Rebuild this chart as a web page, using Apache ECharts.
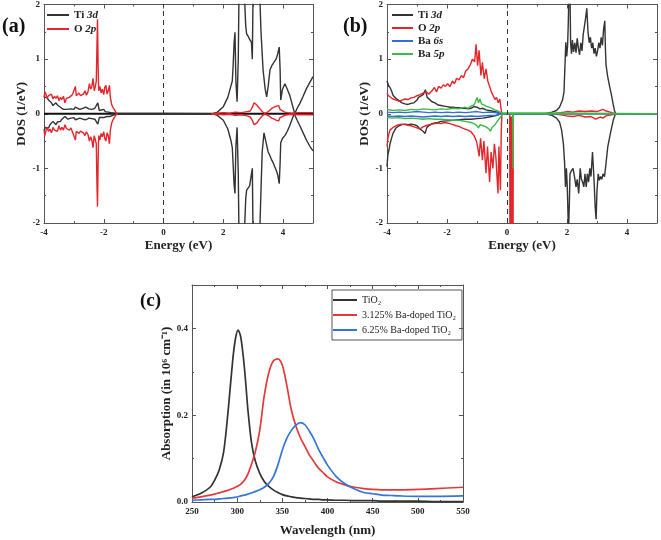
<!DOCTYPE html>
<html>
<head>
<meta charset="utf-8">
<script src="https://cdn.jsdelivr.net/npm/echarts@6/dist/echarts.min.js"></script>
<style>html,body{margin:0;padding:0;background:#fff}#c{width:661px;height:540px}</style>
</head>
<body>
<div id="c"></div>
<script>
// ---------- Panel (a): pristine TiO2 PDOS ----------
const aTiUp = [[-4.0,0.30],[-3.95,0.28],[-3.9,0.30],[-3.85,0.25],[-3.8,0.22],[-3.75,0.2],[-3.7,0.15],[-3.65,0.18],[-3.6,0.2],[-3.55,0.16],[-3.5,0.14],[-3.45,0.12],[-3.4,0.15],[-3.35,0.08],[-3.3,0.05],[-3.25,0.08],[-3.2,0.1],[-3.1,0.09],[-3.0,0.08],[-2.95,0.12],[-2.9,0.1],[-2.8,0.08],[-2.7,0.1],[-2.6,0.12],[-2.5,0.09],[-2.4,0.08],[-2.3,0.1],[-2.25,0.12],[-2.2,0.2],[-2.15,0.06],[-2.1,0.05],[-2.0,0.08],[-1.95,0.04],[-1.9,0.05],[-1.85,0.03],[-1.8,0.06],[-1.75,0.02],[-1.7,0.03],[-1.6,0.01],[-1.55,0],[1.66,0],[1.8,0.03],[2.0,0.13],[2.15,0.3],[2.25,0.5],[2.3,0.6],[2.33,0.9],[2.36,1.3],[2.39,1.49],[2.42,0.6],[2.46,0.22],[2.5,1.0],[2.53,2.5],[2.6,2.5],[2.68,2.5],[2.75,1.6],[2.78,1.46],[2.83,1.42],[2.88,1.36],[2.94,1.31],[2.97,1.0],[3.0,2.5],[3.1,2.5],[3.2,2.5],[3.26,1.5],[3.33,0.8],[3.4,0.45],[3.45,0.31],[3.5,0.5],[3.56,0.8],[3.62,0.88],[3.67,0.92],[3.72,0.95],[3.78,1.02],[3.82,1.1],[3.87,1.22],[3.9,0.8],[3.92,0.25],[3.98,0.45],[4.06,0.55],[4.14,0.45],[4.22,0.34],[4.3,0.18],[4.39,0.0],[4.47,0.1],[4.56,0.19],[4.67,0.32],[4.78,0.46],[4.9,0.58],[5.0,0.68]];
const aTiDn = [[-4.0,-0.3],[-3.95,-0.25],[-3.9,-0.22],[-3.85,-0.26],[-3.8,-0.2],[-3.75,-0.18],[-3.7,-0.14],[-3.65,-0.17],[-3.6,-0.2],[-3.55,-0.15],[-3.5,-0.12],[-3.45,-0.14],[-3.4,-0.1],[-3.35,-0.08],[-3.3,-0.05],[-3.25,-0.07],[-3.2,-0.1],[-3.1,-0.08],[-3.0,-0.07],[-2.95,-0.11],[-2.9,-0.09],[-2.8,-0.08],[-2.7,-0.1],[-2.6,-0.11],[-2.5,-0.08],[-2.4,-0.09],[-2.3,-0.1],[-2.25,-0.13],[-2.2,-0.19],[-2.15,-0.07],[-2.1,-0.05],[-2.0,-0.07],[-1.95,-0.04],[-1.9,-0.05],[-1.85,-0.03],[-1.8,-0.05],[-1.75,-0.02],[-1.7,-0.03],[-1.6,-0.01],[-1.55,0],[1.66,0],[1.8,-0.03],[2.0,-0.12],[2.15,-0.28],[2.25,-0.48],[2.3,-0.62],[2.33,-0.95],[2.36,-1.3],[2.39,-1.46],[2.42,-0.6],[2.46,-0.25],[2.5,-1.1],[2.53,-2.5],[2.6,-2.5],[2.68,-2.5],[2.75,-1.55],[2.78,-1.4],[2.83,-1.38],[2.88,-1.32],[2.94,-1.3],[2.97,-1.0],[3.0,-2.5],[3.1,-2.5],[3.2,-2.5],[3.26,-1.4],[3.3,-0.7],[3.36,-0.35],[3.42,-0.5],[3.5,-0.7],[3.56,-0.77],[3.62,-0.85],[3.67,-0.9],[3.72,-0.97],[3.78,-1.05],[3.82,-1.12],[3.87,-1.28],[3.9,-0.9],[3.92,-0.53],[3.98,-0.45],[4.06,-0.4],[4.14,-0.32],[4.22,-0.22],[4.3,-0.1],[4.37,0.0],[4.47,-0.12],[4.56,-0.22],[4.67,-0.35],[4.78,-0.48],[4.9,-0.6],[5.0,-0.68]];
const aOUp = [[-4.0,0.3],[-3.97,0.4],[-3.93,0.35],[-3.9,0.28],[-3.85,0.33],[-3.8,0.3],[-3.75,0.36],[-3.7,0.27],[-3.65,0.32],[-3.6,0.28],[-3.55,0.33],[-3.5,0.24],[-3.45,0.3],[-3.4,0.26],[-3.35,0.32],[-3.3,0.2],[-3.25,0.28],[-3.2,0.25],[-3.15,0.3],[-3.1,0.27],[-3.05,0.35],[-3.0,0.32],[-2.95,0.5],[-2.92,0.33],[-2.88,0.3],[-2.83,0.38],[-2.78,0.33],[-2.73,0.3],[-2.68,0.36],[-2.63,0.42],[-2.58,0.34],[-2.53,0.4],[-2.48,0.55],[-2.44,0.45],[-2.4,0.5],[-2.36,0.65],[-2.32,0.42],[-2.28,0.5],[-2.25,0.6],[-2.23,1.2],[-2.21,1.73],[-2.19,0.9],[-2.17,0.42],[-2.13,0.5],[-2.09,0.38],[-2.05,0.45],[-2.0,0.35],[-1.97,0.48],[-1.93,0.52],[-1.89,0.36],[-1.85,0.42],[-1.81,0.52],[-1.78,0.3],[-1.74,0.18],[-1.7,0.12],[-1.65,0.08],[-1.6,0.03],[-1.55,0],[0,'-'],[1.6,0],[1.8,0.01],[2.0,0.02],[2.2,0.01],[2.4,0.03],[2.6,0.02],[2.8,0.04],[2.9,0.05],[2.97,0.12],[3.03,0.2],[3.07,0.22],[3.12,0.16],[3.18,0.12],[3.24,0.08],[3.3,0.04],[3.38,0.01],[3.45,0.02],[3.55,0.06],[3.62,0.1],[3.7,0.12],[3.78,0.14],[3.85,0.15],[3.9,0.08],[3.96,0.05],[4.05,0.03],[4.15,0.02],[4.3,0.01],[4.5,0.02],[4.7,0.02],[5.0,0.02]];
const aODn = [[-4.0,-0.3],[-3.97,-0.4],[-3.93,-0.3],[-3.9,-0.25],[-3.85,-0.32],[-3.8,-0.28],[-3.75,-0.35],[-3.7,-0.25],[-3.65,-0.3],[-3.6,-0.27],[-3.55,-0.32],[-3.5,-0.22],[-3.45,-0.3],[-3.4,-0.25],[-3.35,-0.3],[-3.3,-0.2],[-3.25,-0.27],[-3.2,-0.24],[-3.15,-0.3],[-3.1,-0.26],[-3.05,-0.33],[-3.0,-0.3],[-2.95,-0.48],[-2.92,-0.32],[-2.88,-0.3],[-2.83,-0.36],[-2.78,-0.32],[-2.73,-0.3],[-2.68,-0.35],[-2.63,-0.4],[-2.58,-0.33],[-2.53,-0.38],[-2.48,-0.5],[-2.44,-0.42],[-2.4,-0.48],[-2.36,-0.62],[-2.32,-0.4],[-2.28,-0.48],[-2.25,-0.55],[-2.23,-1.25],[-2.21,-1.7],[-2.19,-0.9],[-2.17,-0.4],[-2.13,-0.48],[-2.09,-0.36],[-2.05,-0.42],[-2.0,-0.33],[-1.97,-0.45],[-1.93,-0.5],[-1.89,-0.35],[-1.85,-0.4],[-1.81,-0.55],[-1.78,-0.3],[-1.74,-0.18],[-1.7,-0.12],[-1.65,-0.07],[-1.6,-0.03],[-1.55,0],[0,'-'],[1.6,0],[1.8,-0.01],[2.0,-0.02],[2.2,-0.01],[2.4,-0.03],[2.6,-0.02],[2.8,-0.04],[2.9,-0.06],[2.97,-0.12],[3.03,-0.2],[3.07,-0.23],[3.12,-0.17],[3.18,-0.12],[3.24,-0.08],[3.3,-0.04],[3.38,-0.01],[3.45,-0.02],[3.55,-0.05],[3.62,-0.08],[3.7,-0.1],[3.78,-0.12],[3.85,-0.13],[3.9,-0.07],[3.96,-0.05],[4.05,-0.03],[4.15,-0.02],[4.3,-0.01],[4.5,-0.02],[4.7,-0.02],[5.0,-0.02]];
const aZero = [[-4,0],[5,0]];

// ---------- Panel (b): Ba-doped TiO2 PDOS ----------
const bTiUp = [[-4.0,0.6],[-3.95,0.52],[-3.9,0.48],[-3.85,0.42],[-3.8,0.34],[-3.7,0.28],[-3.6,0.24],[-3.5,0.2],[-3.4,0.18],[-3.3,0.17],[-3.2,0.19],[-3.1,0.2],[-3.0,0.25],[-2.95,0.3],[-2.85,0.33],[-2.78,0.36],[-2.72,0.44],[-2.66,0.3],[-2.6,0.27],[-2.5,0.22],[-2.4,0.2],[-2.3,0.16],[-2.2,0.15],[-2.1,0.14],[-2.0,0.13],[-1.9,0.12],[-1.8,0.12],[-1.7,0.11],[-1.6,0.11],[-1.5,0.1],[-1.4,0.1],[-1.3,0.09],[-1.2,0.1],[-1.1,0.13],[-1.0,0.12],[-0.9,0.09],[-0.8,0.1],[-0.7,0.07],[-0.6,0.06],[-0.5,0.05],[-0.4,0.04],[-0.3,0.03],[-0.2,0.0],[1.27,0],[1.5,0.03],[1.65,0.06],[1.75,0.12],[1.85,0.25],[1.9,0.4],[1.93,0.85],[1.96,1.31],[1.99,1.05],[2.02,1.25],[2.04,1.6],[2.06,2.1],[2.1,2.2],[2.12,1.3],[2.15,1.1],[2.18,1.35],[2.22,1.13],[2.26,1.3],[2.3,1.12],[2.34,1.38],[2.38,1.2],[2.42,1.08],[2.46,1.3],[2.5,1.15],[2.54,1.45],[2.58,1.6],[2.62,1.75],[2.66,1.93],[2.7,1.5],[2.74,1.3],[2.78,1.4],[2.82,1.2],[2.86,1.3],[2.9,1.1],[2.94,1.2],[2.98,1.05],[3.02,1.15],[3.06,1.3],[3.1,1.2],[3.14,1.4],[3.18,1.25],[3.22,1.55],[3.26,1.7],[3.28,1.2],[3.3,0.9],[3.35,0.7],[3.42,0.5],[3.48,0.35],[3.53,0.2],[3.58,0.06],[3.63,0],[5.0,0]];
const bTiDn = [[-4.0,-0.97],[-3.97,-0.75],[-3.93,-0.65],[-3.9,-0.55],[-3.85,-0.45],[-3.8,-0.36],[-3.7,-0.26],[-3.6,-0.22],[-3.5,-0.2],[-3.4,-0.19],[-3.3,-0.2],[-3.2,-0.19],[-3.1,-0.2],[-3.0,-0.22],[-2.9,-0.28],[-2.8,-0.32],[-2.73,-0.36],[-2.67,-0.25],[-2.6,-0.22],[-2.5,-0.18],[-2.4,-0.17],[-2.3,-0.16],[-2.2,-0.14],[-2.0,-0.13],[-1.8,-0.12],[-1.6,-0.11],[-1.4,-0.1],[-1.2,-0.1],[-1.0,-0.09],[-0.8,-0.08],[-0.6,-0.06],[-0.4,-0.04],[-0.2,0],[1.27,0],[1.5,-0.03],[1.65,-0.08],[1.75,-0.15],[1.82,-0.3],[1.88,-0.55],[1.92,-0.9],[1.95,-1.34],[1.98,-1.0],[2.01,-1.34],[2.05,-2.2],[2.08,-1.6],[2.1,-1.1],[2.14,-1.05],[2.2,-1.0],[2.25,-1.15],[2.3,-1.34],[2.34,-1.2],[2.39,-1.46],[2.44,-1.0],[2.48,-1.2],[2.52,-1.25],[2.56,-1.34],[2.6,-1.1],[2.64,-1.34],[2.68,-1.1],[2.72,-1.25],[2.76,-1.0],[2.8,-1.15],[2.85,-0.7],[2.9,-1.2],[2.94,-1.71],[2.97,-1.93],[3.0,-1.4],[3.04,-1.1],[3.08,-1.22],[3.12,-1.15],[3.16,-1.2],[3.2,-1.1],[3.25,-1.15],[3.3,-0.91],[3.36,-0.6],[3.45,-0.35],[3.55,-0.1],[3.62,0],[5.0,0]];
const bOUp = [[-4.0,0.38],[-3.95,0.33],[-3.9,0.3],[-3.8,0.27],[-3.7,0.25],[-3.6,0.23],[-3.5,0.25],[-3.4,0.27],[-3.3,0.26],[-3.2,0.29],[-3.1,0.3],[-3.0,0.33],[-2.9,0.35],[-2.8,0.38],[-2.7,0.4],[-2.6,0.36],[-2.5,0.42],[-2.42,0.48],[-2.35,0.4],[-2.28,0.5],[-2.2,0.47],[-2.12,0.53],[-2.05,0.5],[-1.98,0.55],[-1.9,0.5],[-1.82,0.6],[-1.75,0.55],[-1.68,0.65],[-1.6,0.62],[-1.52,0.7],[-1.45,0.66],[-1.38,0.78],[-1.3,0.82],[-1.22,0.9],[-1.15,1.0],[-1.08,0.95],[-1.03,1.27],[-0.98,0.88],[-0.93,1.16],[-0.87,0.7],[-0.82,0.94],[-0.76,0.64],[-0.7,0.82],[-0.64,0.6],[-0.58,0.57],[-0.52,0.4],[-0.46,0.33],[-0.4,0.26],[-0.35,0.3],[-0.29,0.2],[-0.24,0.27],[-0.2,0.1],[-0.17,0],[1.5,0],[1.8,0.02],[2.0,0.04],[2.2,0.03],[2.4,0.05],[2.6,0.04],[2.8,0.05],[3.0,0.04],[3.2,0.08],[3.3,0.05],[3.5,0.02],[3.6,0],[5.0,0]];
const bODn = [[-4.0,-0.6],[-3.97,-0.45],[-3.93,-0.35],[-3.9,-0.3],[-3.8,-0.25],[-3.7,-0.22],[-3.6,-0.2],[-3.5,-0.19],[-3.4,-0.2],[-3.3,-0.21],[-3.2,-0.22],[-3.1,-0.24],[-3.0,-0.26],[-2.9,-0.28],[-2.8,-0.24],[-2.7,-0.22],[-2.6,-0.2],[-2.5,-0.19],[-2.4,-0.18],[-2.3,-0.17],[-2.2,-0.18],[-2.1,-0.16],[-2.0,-0.17],[-1.9,-0.18],[-1.8,-0.2],[-1.7,-0.22],[-1.6,-0.23],[-1.5,-0.26],[-1.4,-0.28],[-1.3,-0.3],[-1.2,-0.33],[-1.1,-0.4],[-1.02,-0.5],[-0.98,-0.6],[-0.93,-0.78],[-0.88,-0.45],[-0.82,-0.85],[-0.77,-0.5],[-0.7,-1.09],[-0.65,-0.6],[-0.58,-1.25],[-0.53,-0.7],[-0.47,-1.0],[-0.42,-0.55],[-0.37,-0.8],[-0.3,-1.46],[-0.27,-0.6],[-0.22,-1.4],[-0.19,-0.3],[-0.17,0],[0.09,0],[0.1,-3],[0.11,-0.05],[0.12,-3],[0.13,-0.05],[0.14,-3],[0.15,-0.05],[0.16,-3],[0.17,-0.05],[0.18,-3],[0.19,-0.05],[0.2,-3],[0.21,0],[1.5,0],[1.8,-0.02],[2.0,-0.04],[2.2,-0.05],[2.4,-0.03],[2.6,-0.06],[2.8,-0.05],[2.95,-0.1],[3.1,-0.06],[3.2,-0.08],[3.3,-0.04],[3.5,-0.02],[3.6,0],[5.0,0]];
const bBa6sUp = [[-4.0,0.03],[-3.8,0.02],[-3.6,0.03],[-3.4,0.02],[-3.2,0.03],[-3.0,0.04],[-2.8,0.03],[-2.6,0.02],[-2.4,0.03],[-2.2,0.02],[-2.0,0.03],[-1.8,0.02],[-1.6,0.03],[-1.4,0.02],[-1.2,0.03],[-1.0,0.04],[-0.8,0.02],[-0.6,0.03],[-0.4,0.02],[-0.3,0.01],[-0.2,0],[5.0,0]];
const bBa6sDn = [[-4.0,-0.04],[-3.8,-0.05],[-3.6,-0.04],[-3.4,-0.05],[-3.2,-0.04],[-3.0,-0.05],[-2.8,-0.06],[-2.6,-0.05],[-2.4,-0.04],[-2.2,-0.05],[-2.0,-0.04],[-1.8,-0.05],[-1.6,-0.04],[-1.4,-0.05],[-1.2,-0.04],[-1.0,-0.05],[-0.8,-0.04],[-0.6,-0.03],[-0.4,-0.03],[-0.3,-0.02],[-0.2,0],[5.0,0]];
const bBa5pUp = [[-4.0,0.08],[-3.8,0.06],[-3.6,0.07],[-3.4,0.06],[-3.2,0.08],[-3.0,0.07],[-2.8,0.09],[-2.6,0.08],[-2.4,0.07],[-2.2,0.09],[-2.0,0.08],[-1.8,0.1],[-1.6,0.09],[-1.4,0.12],[-1.3,0.1],[-1.2,0.14],[-1.1,0.16],[-1.05,0.22],[-1.0,0.3],[-0.95,0.2],[-0.9,0.27],[-0.85,0.18],[-0.8,0.2],[-0.7,0.14],[-0.6,0.12],[-0.5,0.1],[-0.4,0.07],[-0.3,0.05],[-0.2,0.02],[-0.15,0],[5.0,0]];
const bBa5pDn = [[-4.0,-0.07],[-3.8,-0.08],[-3.6,-0.07],[-3.4,-0.09],[-3.2,-0.08],[-3.0,-0.09],[-2.8,-0.1],[-2.6,-0.09],[-2.4,-0.1],[-2.2,-0.1],[-2.0,-0.11],[-1.8,-0.12],[-1.6,-0.12],[-1.4,-0.14],[-1.2,-0.16],[-1.1,-0.18],[-1.0,-0.22],[-0.95,-0.26],[-0.9,-0.2],[-0.8,-0.22],[-0.7,-0.24],[-0.6,-0.28],[-0.55,-0.32],[-0.5,-0.25],[-0.4,-0.2],[-0.3,-0.12],[-0.2,-0.05],[-0.15,0],[0.19,0],[0.2,-1.0],[0.21,0],[5.0,0]];

// ---------- Panel (c): absorption spectra ----------
const wavelength = [250,260,270,275,280,285,290,295,298,301,304,308,312,316,320,325,330,335,340,345,350,355,360,365,370,375,380,385,390,395,400,410,420,430,440,450,460,470,480,500,520,550];
const absTiO2   = [0.012,0.02,0.034,0.05,0.073,0.115,0.21,0.325,0.375,0.396,0.38,0.31,0.21,0.135,0.095,0.066,0.047,0.036,0.028,0.022,0.017,0.014,0.012,0.01,0.009,0.008,0.007,0.006,0.006,0.005,0.005,0.004,0.004,0.003,0.003,0.003,0.002,0.002,0.002,0.002,0.001,0.001];
const absBa3125 = [0.009,0.012,0.016,0.018,0.021,0.024,0.027,0.031,0.034,0.037,0.041,0.05,0.065,0.088,0.115,0.165,0.245,0.298,0.325,0.33,0.315,0.268,0.212,0.175,0.148,0.128,0.108,0.093,0.078,0.068,0.058,0.046,0.039,0.034,0.031,0.029,0.028,0.028,0.028,0.029,0.031,0.034];
const absBa625  = [0.004,0.005,0.006,0.006,0.007,0.008,0.009,0.01,0.011,0.012,0.014,0.016,0.018,0.021,0.024,0.028,0.034,0.043,0.058,0.085,0.12,0.147,0.165,0.177,0.183,0.178,0.163,0.145,0.122,0.103,0.085,0.058,0.041,0.03,0.022,0.019,0.016,0.015,0.014,0.013,0.013,0.014];

// tick settings
const dosXTicks = {min:-4, max:5, interval:2};
const dosYTicks = {min:-2, max:2, interval:1};
const absXTicks = {min:250, max:550, interval:50};
const absYTicks = {min:0, max:0.5, interval:0.2};

const SERIF = 'Liberation Serif';
const C_BLACK = '#333333', C_RED = '#e3262b', C_BLUE = '#2f6fd6', C_GREEN = '#3db84b';
const W_DOS = 1.4, W_ABS = 1.7;

function axes(gi, xt, yt, xName, yName, xGap, yGap, yFmt){
  const common = {
    axisLine:{show:true, onZero:false, lineStyle:{color:'#555', width:1}},
    axisTick:{show:true, inside:true, length:4, lineStyle:{color:'#555'}},
    minorTick:{show:true, splitNumber:2, length:2, lineStyle:{color:'#555'}},
    splitLine:{show:false},
  };
  const lbl = {fontFamily:SERIF, fontWeight:'bold', fontSize:9, color:'#222'};
  const x = [
    Object.assign({type:'value', gridIndex:gi, position:'bottom', min:xt.min, max:xt.max, interval:xt.interval,
      name:xName, nameLocation:'middle', nameGap:xGap,
      nameTextStyle:{fontFamily:SERIF, fontWeight:'bold', fontSize:13, color:'#222'},
      axisLabel:Object.assign({margin:5, showMaxLabel: xt.max % xt.interval === 0}, lbl)}, common),
    Object.assign({type:'value', gridIndex:gi, position:'top', min:xt.min, max:xt.max, interval:xt.interval,
      axisLabel:{show:false}}, common)
  ];
  const y = [
    Object.assign({type:'value', gridIndex:gi, position:'left', min:yt.min, max:yt.max, interval:yt.interval,
      name:yName, nameLocation:'middle', nameGap:yGap, nameRotate:90,
      nameTextStyle:{fontFamily:SERIF, fontWeight:'bold', fontSize:13, color:'#222'},
      axisLabel:Object.assign({margin:4, showMaxLabel: Math.abs(yt.max/yt.interval - Math.round(yt.max/yt.interval))<1e-9,
        formatter: yFmt}, lbl)}, common),
    Object.assign({type:'value', gridIndex:gi, position:'right', min:yt.min, max:yt.max, interval:yt.interval,
      axisLabel:{show:false}}, common)
  ];
  return {x, y};
}

const A = axes(0, dosXTicks, dosYTicks, 'Energy (eV)', 'DOS (1/eV)', 16, 12, v => String(v));
const B = axes(1, dosXTicks, dosYTicks, 'Energy (eV)', 'DOS (1/eV)', 16, 11, v => String(v));
const Cx = axes(2, absXTicks, absYTicks, 'Wavelength (nm)', 'Absorption (in 10\u2076 cm\u207B\u00B9)', 22, 18, v => v.toFixed(1));

function line(name, data, color, xi, width, extra){
  return Object.assign({type:'line', name, data, xAxisIndex:xi, yAxisIndex:xi, symbol:'none',
    showSymbol:false, animation:false, silent:true, clip:true,
    lineStyle:{color, width:width||W_DOS}, itemStyle:{color}}, extra||{});
}
const zeroDash = {markLine:{symbol:'none', silent:true, label:{show:false}, animation:false,
  lineStyle:{type:[5,4], color:'#333', width:1}, data:[{xAxis:0}]}};

const series = [
  line('zeroA', aZero, '#111', 0, 1.8, zeroDash),
  line('Ti 3d', aTiUp, C_BLACK, 0),
  line('Ti 3d', aTiDn, C_BLACK, 0),
  line('O 2p', aOUp, C_RED, 0),
  line('O 2p', aODn, C_RED, 0),

  line('Ti 3d', bTiUp, C_BLACK, 2, W_DOS, zeroDash),
  line('Ti 3d', bTiDn, C_BLACK, 2),
  line('O 2p', bOUp, C_RED, 2),
  line('O 2p', bODn, C_RED, 2),
  line('Ba 6s', bBa6sUp, C_BLUE, 2),
  line('Ba 6s', bBa6sDn, C_BLUE, 2),
  line('Ba 5p', bBa5pUp, C_GREEN, 2),
  line('Ba 5p', bBa5pDn, C_GREEN, 2),

  line('TiO\u2082', wavelength.map((w,i)=>[w, absTiO2[i]]), '#333333', 4, W_ABS, {smooth:0.3}),
  line('3.125% Ba-doped TiO\u2082', wavelength.map((w,i)=>[w, absBa3125[i]]), '#e23a3a', 4, W_ABS, {smooth:0.3}),
  line('6.25% Ba-doped TiO\u2082', wavelength.map((w,i)=>[w, absBa625[i]]), '#3476d8', 4, W_ABS, {smooth:0.3}),
];

const orbitalFmt = n => { const p = n.split(' '); return p[0] + ' {i|' + p[1] + '}'; };
const legText = {fontFamily:SERIF, fontWeight:'bold', fontSize:11, color:'#222', lineHeight:12,
  rich:{i:{fontFamily:SERIF, fontWeight:'bold', fontStyle:'italic', fontSize:11, color:'#222', lineHeight:12}}};

const option = {
  backgroundColor:'#fff',
  animation:false,
  grid:[
    {left:44, top:3, width:269, height:220, show:false},
    {left:387, top:3, width:270, height:220, show:false},
    {left:192, top:285, width:271, height:217, show:false}
  ],
  xAxis: A.x.concat(B.x, Cx.x),
  yAxis: A.y.concat(B.y, Cx.y),
  legend:[
    {data:['Ti 3d','O 2p'], orient:'vertical', left:47, top:9, icon:'rect', itemWidth:22, itemHeight:2, itemGap:2,
      padding:0, selectedMode:false, formatter:orbitalFmt, textStyle:legText},
    {data:['Ti 3d','O 2p','Ba 6s','Ba 5p'], orient:'vertical', left:392, top:9, icon:'rect', itemWidth:21, itemHeight:2, itemGap:1,
      padding:0, selectedMode:false, formatter:orbitalFmt, textStyle:legText},
    {data:['TiO\u2082','3.125% Ba-doped TiO\u2082','6.25% Ba-doped TiO\u2082'], orient:'vertical', left:332, top:290,
      icon:'rect', itemWidth:24, itemHeight:2, itemGap:3, padding:[4,6,4,1], borderColor:'#555', borderWidth:1,
      selectedMode:false, textStyle:{fontFamily:SERIF, fontSize:10, color:'#222', lineHeight:12}}
  ],
  graphic:[
    {type:'text', left:2, top:17, style:{text:'(a)', font:'bold 20px "Liberation Serif"', fill:'#111'}},
    {type:'text', left:343, top:17, style:{text:'(b)', font:'bold 20px "Liberation Serif"', fill:'#111'}},
    {type:'text', left:140, top:292, style:{text:'(c)', font:'bold 19px "Liberation Serif"', fill:'#111'}}
  ],
  series
};

const chart = echarts.init(document.getElementById('c'), null, {renderer:'canvas'});
chart.setOption(option);
</script>
</body>
</html>
